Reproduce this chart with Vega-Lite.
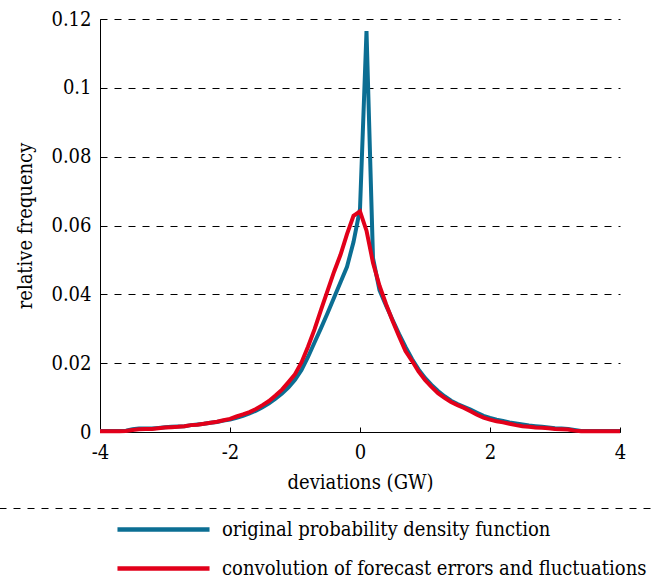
{
  "$schema": "https://vega.github.io/schema/vega-lite/v6.json",
  "width": 520,
  "height": 413,
  "autosize": {"type": "none"},
  "padding": {"left": 100, "top": 19, "right": 35, "bottom": 148},
  "config": {"view": {"stroke": null}, "font": "'DejaVu Serif Condensed', 'DejaVu Serif'", "legend": {"strokeColor": "#000", "strokeDash": [7, 7]}},
  "data": {"values": [
    {"x": -4.0, "original": 0.0003, "convolution": 0.0002},
    {"x": -3.9, "original": 0.0003, "convolution": 0.0002},
    {"x": -3.8, "original": 0.0003, "convolution": 0.0002},
    {"x": -3.7, "original": 0.0003, "convolution": 0.0002},
    {"x": -3.6, "original": 0.0004, "convolution": 0.0003},
    {"x": -3.5, "original": 0.0008, "convolution": 0.0006},
    {"x": -3.4, "original": 0.001, "convolution": 0.0008},
    {"x": -3.3, "original": 0.001, "convolution": 0.0009},
    {"x": -3.2, "original": 0.001, "convolution": 0.0009},
    {"x": -3.1, "original": 0.0012, "convolution": 0.0011},
    {"x": -3.0, "original": 0.0014, "convolution": 0.0013},
    {"x": -2.9, "original": 0.0015, "convolution": 0.0014},
    {"x": -2.8, "original": 0.0016, "convolution": 0.0015},
    {"x": -2.7, "original": 0.0017, "convolution": 0.0017},
    {"x": -2.6, "original": 0.002, "convolution": 0.002},
    {"x": -2.5, "original": 0.0022, "convolution": 0.0021},
    {"x": -2.4, "original": 0.0024, "convolution": 0.0024},
    {"x": -2.3, "original": 0.0027, "convolution": 0.0027},
    {"x": -2.2, "original": 0.0029, "convolution": 0.003},
    {"x": -2.1, "original": 0.0033, "convolution": 0.0034},
    {"x": -2.0, "original": 0.0036, "convolution": 0.0038},
    {"x": -1.9, "original": 0.0041, "convolution": 0.0045},
    {"x": -1.8, "original": 0.0047, "convolution": 0.0051},
    {"x": -1.7, "original": 0.0054, "convolution": 0.0058},
    {"x": -1.6, "original": 0.0062, "convolution": 0.0067},
    {"x": -1.5, "original": 0.0072, "convolution": 0.0078},
    {"x": -1.4, "original": 0.0083, "convolution": 0.009},
    {"x": -1.3, "original": 0.0097, "convolution": 0.0106},
    {"x": -1.2, "original": 0.0112, "convolution": 0.0123},
    {"x": -1.1, "original": 0.013, "convolution": 0.0145},
    {"x": -1.0, "original": 0.0152, "convolution": 0.0168},
    {"x": -0.9, "original": 0.018, "convolution": 0.0202},
    {"x": -0.8, "original": 0.0218, "convolution": 0.0248},
    {"x": -0.7, "original": 0.026, "convolution": 0.0298},
    {"x": -0.6, "original": 0.0302, "convolution": 0.0355},
    {"x": -0.5, "original": 0.0345, "convolution": 0.041},
    {"x": -0.4, "original": 0.039, "convolution": 0.0465},
    {"x": -0.3, "original": 0.0435, "convolution": 0.0515},
    {"x": -0.2, "original": 0.048, "convolution": 0.0575},
    {"x": -0.1, "original": 0.0552, "convolution": 0.0628},
    {"x": 0.0, "original": 0.0648, "convolution": 0.0641},
    {"x": 0.1, "original": 0.1165, "convolution": 0.0585},
    {"x": 0.2, "original": 0.0505, "convolution": 0.0492},
    {"x": 0.3, "original": 0.0412, "convolution": 0.0425},
    {"x": 0.4, "original": 0.0368, "convolution": 0.0372},
    {"x": 0.5, "original": 0.0326, "convolution": 0.0323},
    {"x": 0.6, "original": 0.0285, "convolution": 0.0278},
    {"x": 0.7, "original": 0.0247, "convolution": 0.0235},
    {"x": 0.8, "original": 0.0212, "convolution": 0.0207},
    {"x": 0.9, "original": 0.0182, "convolution": 0.0176},
    {"x": 1.0, "original": 0.0157, "convolution": 0.0151},
    {"x": 1.1, "original": 0.0137, "convolution": 0.0131},
    {"x": 1.2, "original": 0.0119, "convolution": 0.0113},
    {"x": 1.3, "original": 0.0104, "convolution": 0.0099},
    {"x": 1.4, "original": 0.0091, "convolution": 0.0087},
    {"x": 1.5, "original": 0.0081, "convolution": 0.0078},
    {"x": 1.6, "original": 0.0073, "convolution": 0.007},
    {"x": 1.7, "original": 0.0065, "convolution": 0.006},
    {"x": 1.8, "original": 0.0056, "convolution": 0.005},
    {"x": 1.9, "original": 0.0047, "convolution": 0.0042},
    {"x": 2.0, "original": 0.0041, "convolution": 0.0036},
    {"x": 2.1, "original": 0.0036, "convolution": 0.0031},
    {"x": 2.2, "original": 0.0032, "convolution": 0.0028},
    {"x": 2.3, "original": 0.0028, "convolution": 0.0024},
    {"x": 2.4, "original": 0.0025, "convolution": 0.002},
    {"x": 2.5, "original": 0.0022, "convolution": 0.0017},
    {"x": 2.6, "original": 0.0019, "convolution": 0.0015},
    {"x": 2.7, "original": 0.0017, "convolution": 0.0013},
    {"x": 2.8, "original": 0.0015, "convolution": 0.0012},
    {"x": 2.9, "original": 0.0013, "convolution": 0.0011},
    {"x": 3.0, "original": 0.0011, "convolution": 0.0009},
    {"x": 3.1, "original": 0.001, "convolution": 0.0008},
    {"x": 3.2, "original": 0.0009, "convolution": 0.0007},
    {"x": 3.3, "original": 0.0006, "convolution": 0.0004},
    {"x": 3.4, "original": 0.0003, "convolution": 0.0002},
    {"x": 3.5, "original": 0.0003, "convolution": 0.0002},
    {"x": 3.6, "original": 0.0003, "convolution": 0.0002},
    {"x": 3.7, "original": 0.0003, "convolution": 0.0002},
    {"x": 3.8, "original": 0.0003, "convolution": 0.0002},
    {"x": 3.9, "original": 0.0003, "convolution": 0.0002},
    {"x": 4.0, "original": 0.0003, "convolution": 0.0002}
  ]},
  "transform": [{"fold": ["original", "convolution"], "as": ["series", "y"]}],
  "encoding": {
    "x": {
      "field": "x", "type": "quantitative",
      "scale": {"domain": [-4, 4], "nice": false, "zero": false},
      "axis": {
        "values": [-4, -2, 0, 2, 4],
        "title": "deviations (GW)",
        "grid": false, "labelFlush": false,
        "domainColor": "#000", "tickColor": "#000", "tickSize": -5,
        "labelPadding": 15, "labelExpr": "'' + datum.value",
        "labelFont": "'DejaVu Serif Condensed', 'DejaVu Serif'", "titleFont": "'DejaVu Serif Condensed', 'DejaVu Serif'",
        "labelFontSize": 20, "labelColor": "#000",
        "titleFontSize": 20, "titleFontWeight": "normal", "titleColor": "#000",
        "titlePadding": 10
      }
    },
    "y": {
      "field": "y", "type": "quantitative",
      "scale": {"domain": [0, 0.12], "nice": false},
      "axis": {
        "values": [0, 0.02, 0.04, 0.06, 0.08, 0.1, 0.12],
        "title": "relative frequency",
        "grid": true, "gridColor": "#000", "gridOpacity": 1, "gridDash": [7, 7], "gridWidth": 1,
        "domainColor": "#000", "tickColor": "#000", "tickSize": -5,
        "labelPadding": 14, "labelExpr": "'' + datum.value",
        "labelFont": "'DejaVu Serif Condensed', 'DejaVu Serif'", "titleFont": "'DejaVu Serif Condensed', 'DejaVu Serif'",
        "labelFontSize": 20, "labelColor": "#000",
        "titleFontSize": 20, "titleFontWeight": "normal", "titleColor": "#000",
        "titlePadding": 15
      }
    },
    "color": {
      "field": "series", "type": "nominal",
      "scale": {"domain": ["original", "convolution"], "range": ["#0b6e93", "#e2001a"]},
      "legend": {
        "orient": "none", "legendX": -101, "legendY": 489,
        "title": null,
        "symbolType": "M-5,0H5", "symbolSize": 339, "symbolStrokeWidth": 4.5,
        "symbolOffset": 143,
        "labelFont": "'DejaVu Serif Condensed', 'DejaVu Serif'",
        "labelFontSize": 20, "labelColor": "#000", "labelLimit": 0, "labelOffset": 47,
        "labelExpr": "datum.value === 'original' ? 'original probability density function' : 'convolution of forecast errors and fluctuations'",
        "padding": 10,
        "rowPadding": 17
      }
    }
  },
  "layer": [
    {"transform": [{"filter": "datum.series === 'original'"}], "mark": {"type": "line", "strokeWidth": 4}},
    {"transform": [{"filter": "datum.series === 'convolution'"}], "mark": {"type": "line", "strokeWidth": 4}}
  ]
}
